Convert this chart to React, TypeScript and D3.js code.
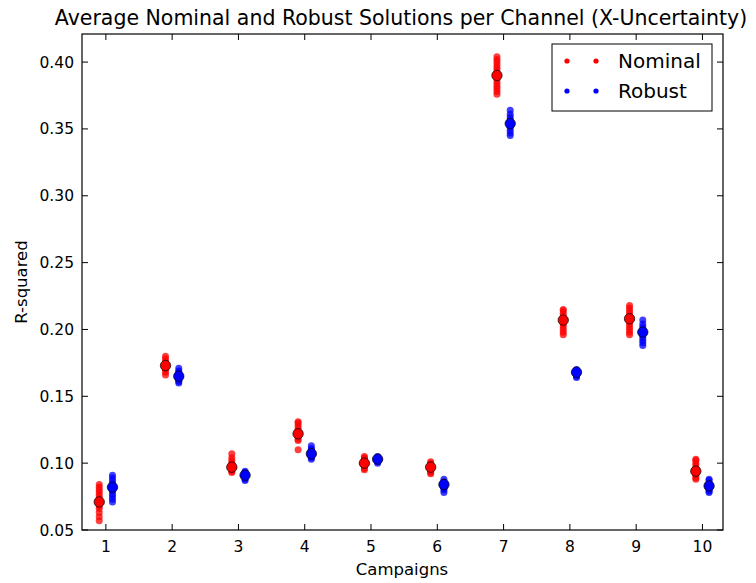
import React from "react";
import * as d3 from "d3";

const campaigns = [1, 2, 3, 4, 5, 6, 7, 8, 9, 10];

// Individual run values per campaign
const nominalRuns: number[][] = [
  [0.057, 0.06, 0.063, 0.066, 0.068, 0.07, 0.071, 0.072, 0.074, 0.076, 0.078, 0.08, 0.082, 0.084],
  [0.166, 0.168, 0.17, 0.171, 0.172, 0.173, 0.174, 0.175, 0.176, 0.178, 0.18],
  [0.093, 0.094, 0.095, 0.096, 0.097, 0.098, 0.099, 0.1, 0.102, 0.104, 0.107],
  [0.11, 0.117, 0.118, 0.12, 0.121, 0.122, 0.123, 0.124, 0.126, 0.128, 0.13, 0.131],
  [0.095, 0.096, 0.098, 0.099, 0.1, 0.101, 0.102, 0.103, 0.104, 0.105],
  [0.092, 0.093, 0.094, 0.095, 0.096, 0.097, 0.098, 0.099, 0.1, 0.101],
  [0.376, 0.378, 0.38, 0.382, 0.384, 0.386, 0.388, 0.39, 0.392, 0.394, 0.396, 0.398, 0.4, 0.402, 0.404],
  [0.196, 0.198, 0.2, 0.202, 0.204, 0.206, 0.207, 0.208, 0.21, 0.212, 0.214, 0.215],
  [0.196, 0.198, 0.2, 0.202, 0.204, 0.206, 0.208, 0.21, 0.212, 0.214, 0.216, 0.218],
  [0.088, 0.089, 0.091, 0.092, 0.093, 0.094, 0.095, 0.096, 0.098, 0.1, 0.102, 0.103],
];

const robustRuns: number[][] = [
  [0.071, 0.073, 0.075, 0.077, 0.079, 0.08, 0.082, 0.083, 0.085, 0.087, 0.089, 0.091],
  [0.16, 0.161, 0.162, 0.163, 0.164, 0.165, 0.166, 0.167, 0.168, 0.169, 0.171],
  [0.087, 0.088, 0.089, 0.09, 0.091, 0.092, 0.093, 0.094],
  [0.103, 0.104, 0.105, 0.106, 0.107, 0.108, 0.109, 0.11, 0.111, 0.113],
  [0.1, 0.101, 0.102, 0.103, 0.104, 0.105],
  [0.078, 0.08, 0.081, 0.082, 0.083, 0.084, 0.085, 0.086, 0.088],
  [0.345, 0.347, 0.349, 0.351, 0.353, 0.354, 0.355, 0.357, 0.359, 0.361, 0.364],
  [0.164, 0.165, 0.166, 0.167, 0.168, 0.169, 0.17],
  [0.188, 0.19, 0.192, 0.194, 0.196, 0.198, 0.2, 0.202, 0.204, 0.207],
  [0.078, 0.079, 0.08, 0.081, 0.082, 0.083, 0.084, 0.085, 0.087, 0.088],
];

const nominalMean = [0.071, 0.173, 0.097, 0.122, 0.1, 0.097, 0.39, 0.207, 0.208, 0.094];
const robustMean = [0.082, 0.165, 0.091, 0.107, 0.103, 0.084, 0.354, 0.168, 0.198, 0.083];

const yTicks = [0.05, 0.1, 0.15, 0.2, 0.25, 0.3, 0.35, 0.4];

const W = 756;
const H = 583;
const M = { left: 82, right: 723, top: 34, bottom: 530 };
const FONT = "DejaVu Sans, sans-serif";

export default function App() {
  const x = d3.scaleLinear().domain([0.64, 10.31]).range([M.left, M.right]);
  const y = d3.scaleLinear().domain([0.05, 0.421]).range([M.bottom, M.top]);
  const fmt = d3.format(".2f");
  const tick = 6;
  const offset = 0.1;

  const series = [
    { name: "Nominal", color: "#ff0000", runs: nominalRuns, mean: nominalMean, dx: -offset },
    { name: "Robust", color: "#0000ff", runs: robustRuns, mean: robustMean, dx: offset },
  ];

  return (
    <svg
      width={W}
      height={H}
      style={{ position: "absolute", left: 0, top: 0, display: "block", background: "#fff" }}
      fontFamily={FONT}
    >
      <rect x={0} y={0} width={W} height={H} fill="#fff" />
      <text x={401} y={25} textAnchor="middle" fontSize={20.5} fill="#000">
        Average Nominal and Robust Solutions per Channel (X-Uncertainty)
      </text>

      {/* run points */}
      {series.map((s) =>
        s.runs.map((vals, i) =>
          vals.map((v, j) => (
            <circle
              key={`${s.name}-${i}-${j}`}
              cx={x(campaigns[i] + s.dx)}
              cy={y(v)}
              r={3.5}
              fill={s.color}
              fillOpacity={0.75}
            />
          ))
        )
      )}

      {/* mean markers */}
      {series.map((s) =>
        s.mean.map((v, i) => (
          <circle
            key={`${s.name}-mean-${i}`}
            cx={x(campaigns[i] + s.dx)}
            cy={y(v)}
            r={5.2}
            fill={s.color}
            stroke="#000"
            strokeOpacity={0.7}
            strokeWidth={1}
          />
        ))
      )}

      {/* frame */}
      <rect
        x={M.left}
        y={M.top}
        width={M.right - M.left}
        height={M.bottom - M.top}
        fill="none"
        stroke="#000"
        strokeWidth={1.2}
      />

      {/* x ticks */}
      {campaigns.map((c) => (
        <g key={`xt-${c}`}>
          <line x1={x(c)} x2={x(c)} y1={M.bottom} y2={M.bottom - tick} stroke="#000" />
          <line x1={x(c)} x2={x(c)} y1={M.top} y2={M.top + tick} stroke="#000" />
          <text x={x(c)} y={M.bottom + 22} textAnchor="middle" fontSize={15.5} fill="#000">
            {c}
          </text>
        </g>
      ))}

      {/* y ticks */}
      {yTicks.map((t) => (
        <g key={`yt-${t}`}>
          <line x1={M.left} x2={M.left + tick} y1={y(t)} y2={y(t)} stroke="#000" />
          <line x1={M.right} x2={M.right - tick} y1={y(t)} y2={y(t)} stroke="#000" />
          <text x={M.left - 8} y={y(t) + 5.5} textAnchor="end" fontSize={15.5} fill="#000">
            {fmt(t)}
          </text>
        </g>
      ))}

      <text x={402} y={575} textAnchor="middle" fontSize={16.5} fill="#000">
        Campaigns
      </text>
      <text
        transform={`translate(27, ${(M.top + M.bottom) / 2}) rotate(-90)`}
        textAnchor="middle"
        fontSize={16.5}
        fill="#000"
      >
        R-squared
      </text>

      {/* legend */}
      <g>
        <rect x={552} y={44} width={160} height={67} fill="#fff" stroke="#000" strokeWidth={1} />
        {series.map((s, k) => (
          <g key={`lg-${s.name}`}>
            <circle cx={567} cy={61 + k * 30} r={2.6} fill={s.color} />
            <circle cx={596} cy={61 + k * 30} r={2.6} fill={s.color} />
            <text x={618} y={68 + k * 30} fontSize={20} fill="#000">
              {s.name}
            </text>
          </g>
        ))}
      </g>
    </svg>
  );
}
